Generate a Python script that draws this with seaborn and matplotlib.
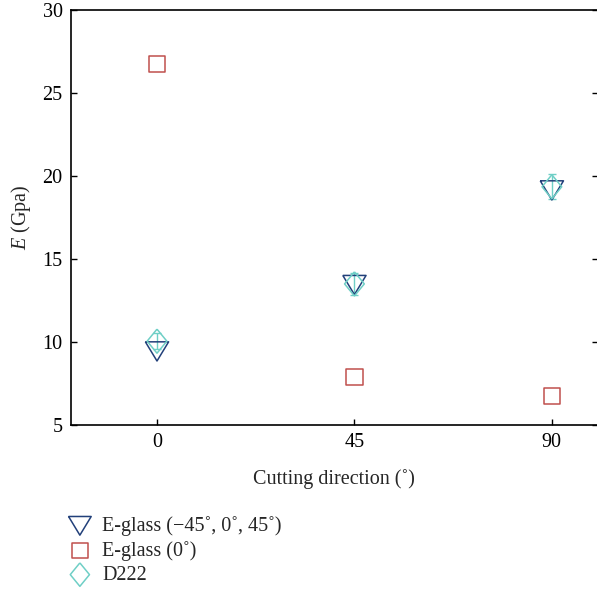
import pandas as pd
import matplotlib.pyplot as plt
import seaborn as sns

# Данные
directions = [0, 45, 90]
eglass_mixed = [9.45, 13.45, 19.15]
eglass_0 = [26.75, 7.9, 6.75]
d222 = [10.05, 13.5, 19.35]
d222_err = [0.5, 0.65, 0.75]

labels = ["E-glass (\u221245\u02da, 0\u02da, 45\u02da)", "E-glass (0\u02da)", "D222"]
colors = ["#22407a", "#c0504d", "#6fcfc6"]

# Маркеры: треугольник, квадрат, вытянутый ромб
tri = [(-1, 0.8), (1, 0.8), (0, -0.85), (-1, 0.8)]
dia = [(0, 1), (0.82, 0), (0, -1), (-0.82, 0), (0, 1)]
markers = [tri, "s", dia]
sizes = [280, 135, 300]


def build_frame():
    """Собирает таблицу для seaborn."""
    parts = []
    for name, vals in zip(labels, [eglass_mixed, eglass_0, d222]):
        parts.append(pd.DataFrame({"direction": directions, "E": vals, "series": name}))
    return pd.concat(parts, ignore_index=True)


def main():
    sns.set_style("white")
    plt.rcParams["font.family"] = ["Liberation Serif", "DejaVu Serif"]
    plt.rcParams["mathtext.fontset"] = "custom"
    plt.rcParams["mathtext.it"] = "Liberation Serif:italic"
    plt.rcParams["mathtext.rm"] = "Liberation Serif"

    fs = 14.5
    data = build_frame()
    fig = plt.figure(figsize=(5.97, 5.94), dpi=100)
    ax = fig.add_axes([71 / 597, 1 - 425 / 594, (597.5 - 71) / 597, (425 - 10) / 594])

    # Сначала планки погрешностей для D222
    ax.errorbar(directions, d222, yerr=d222_err, fmt="none", ecolor=colors[2],
                elinewidth=1.0, capsize=2.6, capthick=1.0, zorder=2)

    handles = []
    for name, col, mk, sz in zip(labels, colors, markers, sizes):
        sub = data[data["series"] == name]
        sns.scatterplot(data=sub, x="direction", y="E", ax=ax, marker=mk, s=sz,
                        color=col, facecolor="none", edgecolor=col, linewidth=1.1,
                        zorder=3, legend=False)
        h = ax.scatter([], [], marker=mk, s=sz * 0.95, facecolor="none",
                       edgecolor=col, linewidth=1.1)
        handles.append(h)

    ax.set_xlim(-19.6, 100.4)
    ax.set_ylim(5, 30)
    ax.set_xticks(directions)
    ax.set_yticks([5, 10, 15, 20, 25, 30])
    ax.tick_params(axis="both", direction="in", length=4, width=1.0, labelsize=fs,
                   right=True, left=True, bottom=True, top=False, colors="black", pad=6)
    for side in ["left", "bottom", "top", "right"]:
        ax.spines[side].set_visible(True)
        ax.spines[side].set_color("black")
        ax.spines[side].set_linewidth(1.2)

    ax.set_xlabel("Cutting direction (\u02da)", fontsize=fs, labelpad=12)
    ax.set_ylabel("$E$ (Gpa)", fontsize=fs, labelpad=7)

    fig.legend(handles, labels, loc="upper left", bbox_to_anchor=(0.095, 0.145),
               frameon=False, fontsize=fs, handletextpad=0.35, labelspacing=0.25,
               borderaxespad=0, handlelength=1.5)

    fig.savefig("out.png", dpi=100)
    plt.close(fig)


if __name__ == "__main__":
    main()
